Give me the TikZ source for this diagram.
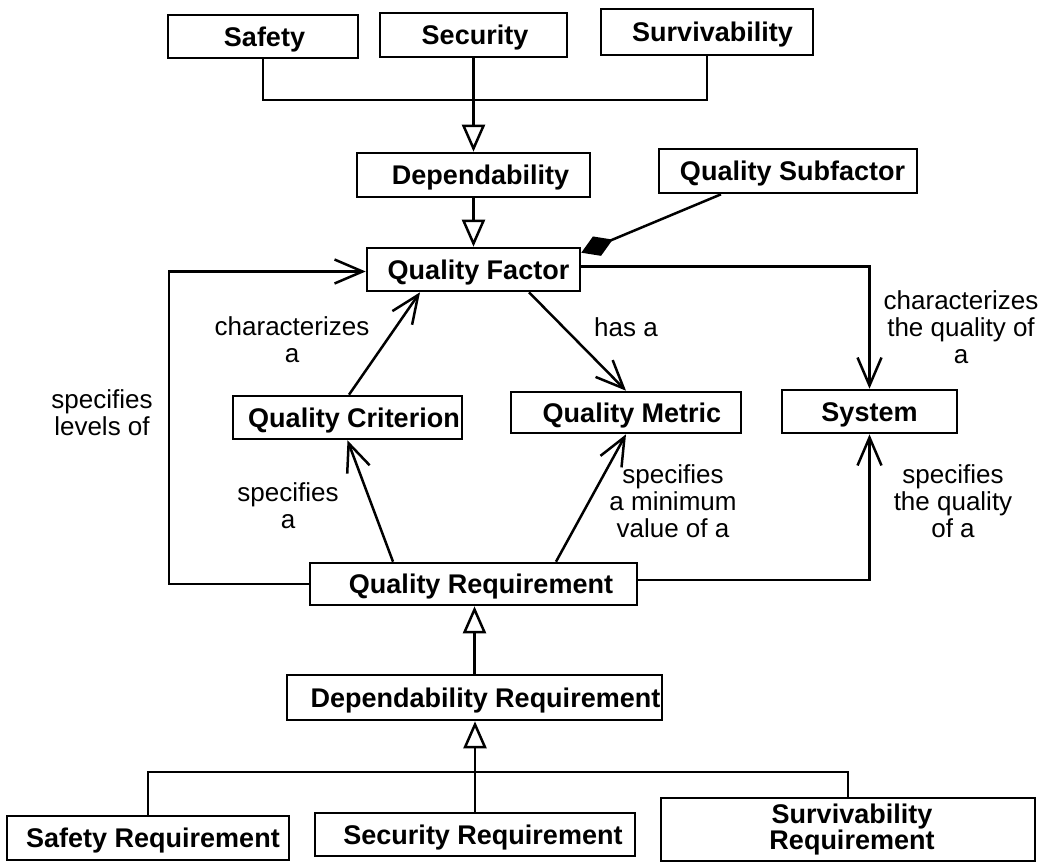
\documentclass[tikz,border=0pt]{standalone}
\usepackage{fontspec}
\setmainfont{Liberation Sans}
\usetikzlibrary{arrows.meta,calc}
\newcommand\boxfont{\fontsize{27}{26}\selectfont\bfseries}
\newcommand\lblfont{\fontsize{26}{27}\selectfont}
% box caption, shifted right by half of #1 (in pt), not widening the box
\newcommand\bxt[2]{\makebox[0pt]{\hspace*{#1pt}#2}}

\begin{document}
\begin{tikzpicture}[x=1pt,y=-1pt,
  frame/.style={draw, line width=2.6pt, inner sep=0pt, font=\boxfont},
  box/.style={frame, text height=19.4pt, text depth=0pt},
  lbl/.style={align=center, font=\lblfont, inner sep=0pt},
  link/.style={line width=2.5pt},
  assoc/.style={link, -{Straight Barb[length=28pt,width=24pt]}},
  gen/.style={link, -{Triangle[open,length=27pt,width=23pt,fill=white]}},
  comp/.style={link, -{Diamond[length=34pt,width=21pt]}},
]
\fill[white] (0,0) rectangle (1048,861);
\useasboundingbox (0,0) rectangle (1048,861);

% classes
\node[box, minimum width=190pt, minimum height=43pt] (safety)   at (263,36.5)   {\bxt{3}{Safety}};
\node[box, minimum width=187pt, minimum height=44pt] (security) at (473.5,35)   {\bxt{3}{Security}};
\node[box, minimum width=212pt, minimum height=46pt] (surv)     at (707,32)     {\bxt{11}{Survivability}};
\node[box, minimum width=233pt, minimum height=44pt] (dep)      at (473.5,175)  {\bxt{14}{Dependability}};
\node[box, minimum width=258pt, minimum height=44pt] (qsub)     at (788,171)    {\bxt{9}{Quality Subfactor}};
\node[box, minimum width=213pt, minimum height=43pt] (qf)       at (473.5,269.5){\bxt{10}{Quality Factor}};
\node[box, minimum width=229pt, minimum height=43pt] (qc)       at (347.5,417.5){\bxt{13}{Quality Criterion}};
\node[box, minimum width=230pt, minimum height=41pt] (qm)       at (626,412.5)  {\bxt{12}{Quality Metric}};
\node[box, minimum width=175pt, minimum height=43pt] (sys)      at (869.5,411.5){\bxt{0}{System}};
\node[box, minimum width=327pt, minimum height=42pt] (qr)       at (473.5,584)  {\bxt{15}{Quality Requirement}};
\node[box, minimum width=375pt, minimum height=45pt] (dreq)     at (474.5,697.5){\bxt{22}{Dependability Requirement}};
\node[box, minimum width=282pt, minimum height=44pt] (sreq)     at (148,838)    {\bxt{10}{Safety Requirement}};
\node[box, minimum width=320pt, minimum height=43pt] (secreq)   at (475,834.5)  {\bxt{16}{Security Requirement}};
\node[frame, align=center, minimum width=374pt, minimum height=63pt] (survreq) at (848,829.5) {\bxt{8}{Survivability}\\\bxt{8}{Requirement}};

% generalisation of the dependability attributes
\coordinate (topbus) at (474,100);
\draw[link] (safety.south) |- (topbus) -| (surv.south);
\draw[gen] (security.south) -- (dep.north);
\draw[gen] (dep.south) -- (qf.north);

% aggregation of subfactors
\draw[comp] ([xshift=-67pt]qsub.south) -- ([yshift=-6pt]qf.north east);

% associations
\draw[assoc] ([yshift=3pt]qf.east) -| (sys.north);
\coordinate (loopx) at (169,430);
\draw[assoc] (qr.west) -| (loopx) |- ([yshift=-2pt]qf.west);
\draw[assoc] ([xshift=1.5pt]qc.north) -- ([xshift=-53.5pt]qf.south);
\draw[assoc] ([xshift=55.5pt]qf.south) -- (qm.north);
\draw[assoc] ([xshift=-80.5pt]qr.north) -- (qc.south);
\draw[assoc] ([xshift=82.5pt]qr.north) -- (qm.south);
\draw[assoc] ([yshift=4pt]qr.east) -| (sys.south);

% requirement hierarchy
\draw[gen] (dreq.north) -- (dreq.north |- qr.south);
\coordinate (botbus) at (475,772);
\draw[link] (sreq.north) |- (botbus) -| (survreq.north);
\draw[gen] (secreq.north) -- (secreq.north |- dreq.south);

% association labels
\node[lbl] (lcharqf) at (292,340)   {characterizes\\a};
\node[lbl] (llevels) at (102,413)   {specifies\\levels of};
\node[lbl] (lspecqc) at (288,506)   {specifies\\a};
\node[lbl] (lhas)    at (626,327)   {has a};
\node[lbl] (lcharsy) at (961,327)   {characterizes\\the quality of\\a};
\node[lbl] (lminval) at (673,501)   {specifies\\a minimum\\value of a};
\node[lbl] (lspecsy) at (953,501)   {specifies\\the quality\\of a};
\end{tikzpicture}
\end{document}
